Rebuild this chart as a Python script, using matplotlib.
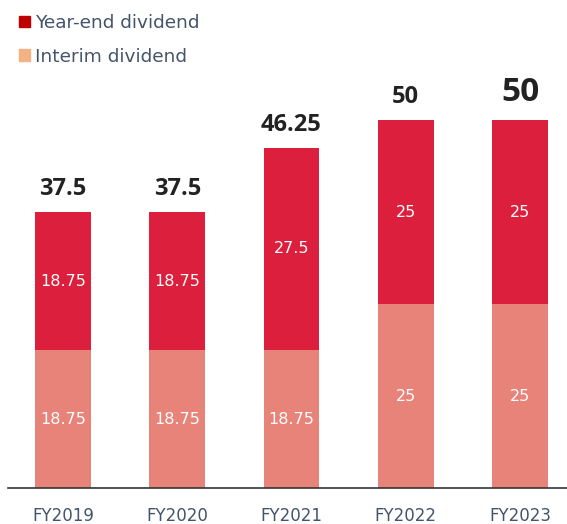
import matplotlib.pyplot as plt
from matplotlib.patches import Patch

years = ["FY2019", "FY2020", "FY2021", "FY2022", "FY2023"]
interim = [18.75, 18.75, 18.75, 25, 25]
year_end = [18.75, 18.75, 27.5, 25, 25]
totals = ["37.5", "37.5", "46.25", "50", "50"]

c_year_end = "#DC1F3C"
c_interim = "#E8837A"
c_text = "#44546A"

plt.rcParams["font.family"] = "DejaVu Sans"

fig = plt.figure(figsize=(5.67, 5.24), dpi=100)
ax = fig.add_axes([8 / 567, 36 / 524, 559 / 567, 418 / 524])

x = list(range(len(years)))
ax.bar(x, interim, width=0.49, color=c_interim)
ax.bar(x, year_end, width=0.49, bottom=interim, color=c_year_end)

for i in x:
    ax.text(i, interim[i] / 2, f"{interim[i]:g}", ha="center", va="center",
            color="white", fontsize=11.5)
    ax.text(i, interim[i] + year_end[i] / 2, f"{year_end[i]:g}", ha="center",
            va="center", color="white", fontsize=11.5)
    top = interim[i] + year_end[i]
    size = 24 if i == len(years) - 1 else 17
    ax.text(i, top + 1.5, totals[i], ha="center", va="bottom", color="#222222",
            fontsize=size, fontweight="bold", family="Open Sans")

ax.set_xlim(-0.481, 4.411)
ax.set_ylim(0, 56.8)
ax.set_xticks(x)
ax.set_xticklabels(years, color=c_text, fontsize=12)
ax.tick_params(axis="x", length=0, pad=14)
ax.set_yticks([])
for s in ["top", "right", "left"]:
    ax.spines[s].set_visible(False)
ax.spines["bottom"].set_color("#333333")
ax.spines["bottom"].set_linewidth(1.2)

handles = [Patch(color="#C00000"), Patch(color="#F4B183")]
fig.legend(handles, ["Year-end dividend", "Interim dividend"],
           loc="upper left", bbox_to_anchor=(0.01, 0.998), frameon=False,
           fontsize=13.3, labelcolor=c_text, handlelength=0.6, handleheight=0.6,
           handletextpad=0.3, labelspacing=0.85, borderaxespad=0.3)

fig.savefig("out.png", dpi=100)
